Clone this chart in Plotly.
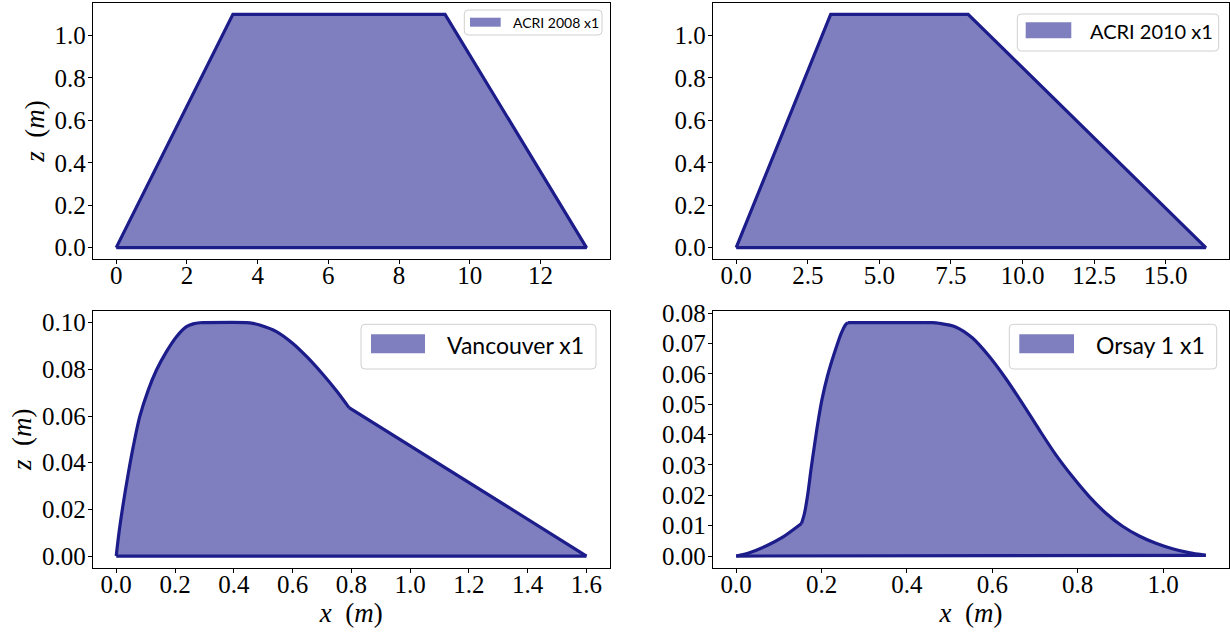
import plotly.graph_objects as go

# ---------------- data ----------------
acri2008_x = [0.0, 3.3, 9.3, 13.3, 0.0]
acri2008_z = [0.0, 1.1, 1.1, 0.0, 0.0]

acri2010_x = [0.0, 3.3, 8.1, 16.4, 0.0]
acri2010_z = [0.0, 1.1, 1.1, 0.0, 0.0]

vanc_x = [0.0, 0.010, 0.024, 0.041, 0.058, 0.080, 0.109, 0.137, 0.171,
          0.205, 0.239, 0.262, 0.285, 0.30, 0.443, 0.465, 0.488, 0.545, 0.60,
          0.65, 0.70, 0.75, 0.792, 1.6, 0.0]
vanc_z = [0.0, 0.0105, 0.0225, 0.0354, 0.0469, 0.0597, 0.0711, 0.0797, 0.0876,
          0.094, 0.0983, 0.0995, 0.09995, 0.1, 0.1, 0.0997, 0.099, 0.0962, 0.0912,
          0.0852, 0.0783, 0.0707, 0.0636, 0.0, 0.0]
vanc_kinks = [0, 22, 23, 24]          # indices of sharp corners

orsay_x = [0.0, 0.031, 0.070, 0.109, 0.153, 0.160, 0.168, 0.175, 0.183, 0.191,
           0.201, 0.214, 0.230, 0.246, 0.257, 0.262, 0.44, 0.46, 0.475, 0.514,
           0.553, 0.592, 0.631, 0.670, 0.709, 0.748, 0.788, 0.827, 0.866, 0.905,
           0.944, 0.983, 1.022, 1.06, 1.10, 0.0]
orsay_z = [0.0, 0.0011, 0.0033, 0.0062, 0.0107, 0.0141, 0.0207, 0.0283, 0.0361, 0.0436,
           0.0516, 0.0594, 0.0669, 0.0734, 0.0764, 0.0769, 0.0769, 0.0769, 0.0767, 0.0755,
           0.0719, 0.0659, 0.0586, 0.0504, 0.0418, 0.0335, 0.0261, 0.0196, 0.0141, 0.0098,
           0.0066, 0.0042, 0.0024, 0.0011, 0.0002, 0.0]
orsay_kinks = [0, 4, 15, 16, 34, 35]

labels = ["ACRI 2008 x1", "ACRI 2010 x1", "Vancouver x1", "Orsay 1 x1"]

# ---------------- styling ----------------
W, H = 1230, 635
FILL = "rgba(0,0,128,0.5)"
EDGE = "rgb(28,28,138)"
LW = 3.2
TICKFONT = dict(family="Liberation Serif", size=25, color="black")
TITLEFONT = dict(family="Liberation Serif", size=27, color="black")


def px(x):
    return x / W


def py(y):
    return 1 - y / H


fig = go.Figure()

panels = [
    (acri2008_x, acri2008_z, None, "x", "y"),
    (acri2010_x, acri2010_z, None, "x2", "y2"),
    (vanc_x, vanc_z, vanc_kinks, "x3", "y3"),
    (orsay_x, orsay_z, orsay_kinks, "x4", "y4"),
]
for xs, zs, kinks, xa, ya in panels:
    if kinks is None:
        fig.add_trace(go.Scatter(x=xs, y=zs, xaxis=xa, yaxis=ya, mode="lines",
                                 fill="toself", fillcolor=FILL,
                                 line=dict(color=EDGE, width=LW, shape="linear"),
                                 showlegend=False, hoverinfo="skip"))
        continue
    # filled area (no outline)
    fig.add_trace(go.Scatter(x=xs, y=zs, xaxis=xa, yaxis=ya, mode="lines",
                             fill="toself", fillcolor=FILL, line=dict(width=0),
                             showlegend=False, hoverinfo="skip"))
    # outline: smooth between sharp corners
    for a, b in zip(kinks[:-1], kinks[1:]):
        seg_x, seg_z = xs[a:b + 1], zs[a:b + 1]
        shape = "spline" if len(seg_x) > 2 else "linear"
        fig.add_trace(go.Scatter(x=seg_x, y=seg_z, xaxis=xa, yaxis=ya, mode="lines",
                                 line=dict(color=EDGE, width=LW, shape=shape, smoothing=0.8),
                                 showlegend=False, hoverinfo="skip"))

# axes domains (pixel based)
colx = [(92.7, 610.0), (712.7, 1229.3)]
rowy = [(2.7, 259.3), (311.0, 567.7)]


def dom_x(c):
    return [px(colx[c][0]), px(colx[c][1])]


def dom_y(r):
    return [py(rowy[r][1]), py(rowy[r][0])]


def rng(vals, m=0.05):
    lo, hi = min(vals), max(vals)
    d = (hi - lo) * m
    return [lo - d, hi + d]


axcommon = dict(showgrid=False, zeroline=False, showline=True, linecolor="black",
                linewidth=1, mirror=True, ticks="outside", ticklen=4, tickwidth=1,
                tickcolor="black", tickfont=TICKFONT, automargin=False)
xcommon = dict(ticklabelstandoff=-10, **axcommon)
ycommon = dict(ticklabelstandoff=-3, **axcommon)

ZT = "<i>z</i>&nbsp;&nbsp;(<i>m</i>)"
XT = "<i>x</i>&nbsp;&nbsp;(<i>m</i>)"

fig.update_layout(
    template="none",
    width=W, height=H, margin=dict(l=0, r=0, t=0, b=0, pad=0),
    paper_bgcolor="white", plot_bgcolor="white", showlegend=False,
    xaxis=dict(domain=dom_x(0), anchor="y", range=rng(acri2008_x), tickmode="linear",
               tick0=0, dtick=2, **xcommon),
    yaxis=dict(domain=dom_y(0), anchor="x", range=rng(acri2008_z), tickmode="linear",
               tick0=0, dtick=0.2, tickformat=".1f",
               title=dict(text=ZT, font=TITLEFONT, standoff=2), **ycommon),
    xaxis2=dict(domain=dom_x(1), anchor="y2", range=rng(acri2010_x), tickmode="linear",
                tick0=0, dtick=2.5, tickformat=".1f", **xcommon),
    yaxis2=dict(domain=dom_y(0), anchor="x2", range=rng(acri2010_z), tickmode="linear",
                tick0=0, dtick=0.2, tickformat=".1f", **ycommon),
    xaxis3=dict(domain=dom_x(0), anchor="y3", range=rng(vanc_x), tickmode="linear",
                tick0=0, dtick=0.2, tickformat=".1f",
                title=dict(text=XT, font=TITLEFONT, standoff=2), **xcommon),
    yaxis3=dict(domain=dom_y(1), anchor="x3", range=rng(vanc_z), tickmode="linear",
                tick0=0, dtick=0.02, tickformat=".2f",
                title=dict(text=ZT, font=TITLEFONT, standoff=2), **ycommon),
    xaxis4=dict(domain=dom_x(1), anchor="y4", range=rng(orsay_x), tickmode="linear",
                tick0=0, dtick=0.2, tickformat=".1f",
                title=dict(text=XT, font=TITLEFONT, standoff=2), **xcommon),
    yaxis4=dict(domain=dom_y(1), anchor="x4", range=rng(orsay_z), tickmode="linear",
                tick0=0, dtick=0.01, tickformat=".2f", **ycommon),
)


# ---------------- legends (drawn manually) ----------------
def rrect(x0, y0, x1, y1, r):
    return (f"M {px(x0+r)},{py(y0)} L {px(x1-r)},{py(y0)} "
            f"Q {px(x1)},{py(y0)} {px(x1)},{py(y0+r)} L {px(x1)},{py(y1-r)} "
            f"Q {px(x1)},{py(y1)} {px(x1-r)},{py(y1)} L {px(x0+r)},{py(y1)} "
            f"Q {px(x0)},{py(y1)} {px(x0)},{py(y1-r)} L {px(x0)},{py(y0+r)} "
            f"Q {px(x0)},{py(y0)} {px(x0+r)},{py(y0)} Z")


# box(x0,y0,x1,y1), patch(x0,y0,x1,y1), text left x, text center y, font size
legends = [
    ((464.3, 10.0, 602.0, 35.0), (470.0, 17.7, 500.7, 26.7), 511.0, 22.5, 14),
    ((1017.3, 14.0, 1218.7, 51.0), (1025.7, 22.3, 1071.3, 38.3), 1088.0, 31.0, 20),
    ((361.0, 324.3, 596.0, 369.0), (371.0, 334.3, 425.0, 353.3), 444.5, 344.5, 23),
    ((1009.3, 324.3, 1216.7, 369.0), (1019.3, 334.3, 1074.0, 353.3), 1093.5, 344.5, 23),
]
for lab, (box, patch, tx, ty, fs) in zip(labels, legends):
    fig.add_shape(type="path", xref="paper", yref="paper", path=rrect(*box, 4),
                  fillcolor="rgba(255,255,255,0.8)", line=dict(color="#d0d0d0", width=1),
                  layer="above")
    fig.add_shape(type="rect", xref="paper", yref="paper",
                  x0=px(patch[0]), x1=px(patch[2]), y0=py(patch[3]), y1=py(patch[1]),
                  fillcolor=FILL, line=dict(width=0), layer="above")
    fig.add_annotation(xref="paper", yref="paper", x=px(tx), y=py(ty), text=lab,
                       showarrow=False, xanchor="left", yanchor="middle",
                       font=dict(family="Lato", size=fs, color="black"))

fig.write_html("out.html", config={"displayModeBar": False},
               post_script="document.body.style.margin='0';document.body.style.padding='0';")
